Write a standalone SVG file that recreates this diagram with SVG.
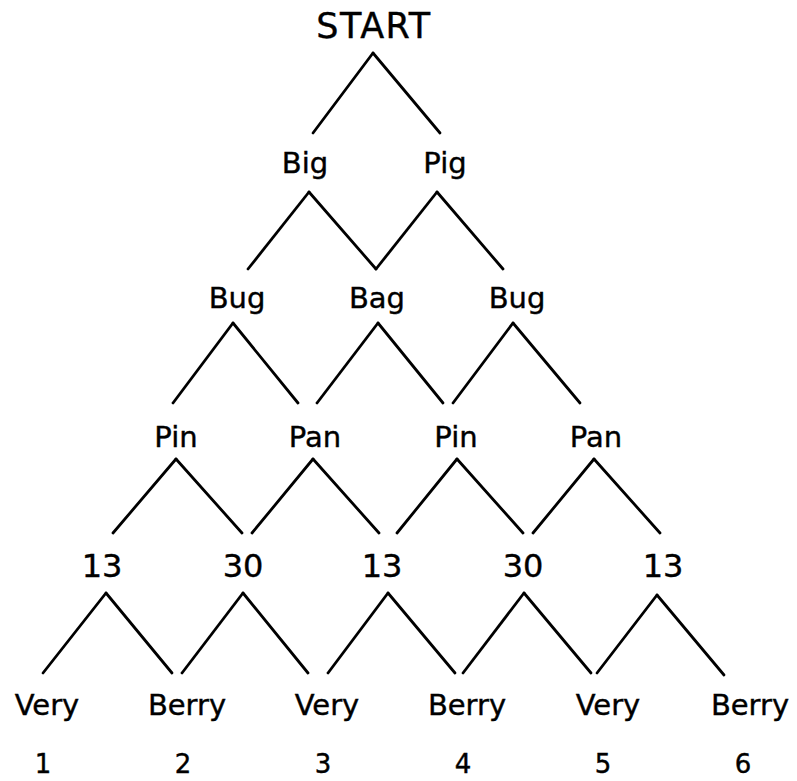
<svg xmlns="http://www.w3.org/2000/svg" width="797" height="781" viewBox="0 0 797 781">
  <style>
    text { font-family: "DejaVu Sans", "Liberation Sans", sans-serif; fill: #000; stroke: #000; stroke-width: 0.4px; text-anchor: middle; }
    .lbl { font-size: 29px; }
    .top { font-size: 35px; letter-spacing: 1.5px; }
    .num { font-size: 32px; }
    .idx { font-size: 26px; }
    .edges line { stroke: #000; stroke-width: 2.8; stroke-linecap: round; }
  </style>
  <rect width="797" height="781" fill="#fff"/>

  <!-- connectors -->
  <g id="edges" class="edges">
    <!-- START -->
    <line x1="373" y1="53" x2="313" y2="133"/>
    <line x1="373" y1="53" x2="440" y2="133"/>
    <!-- Big / Pig -->
    <line x1="309" y1="192" x2="248" y2="269"/>
    <line x1="309" y1="192" x2="376" y2="269"/>
    <line x1="437" y1="192" x2="376" y2="269"/>
    <line x1="437" y1="192" x2="503" y2="269"/>
    <!-- Bug / Bag / Bug -->
    <line x1="233" y1="323" x2="173" y2="403"/>
    <line x1="233" y1="323" x2="298" y2="403"/>
    <line x1="378" y1="323" x2="317" y2="403"/>
    <line x1="378" y1="323" x2="443" y2="403"/>
    <line x1="513" y1="323" x2="453" y2="403"/>
    <line x1="513" y1="323" x2="580" y2="403"/>
    <!-- Pin / Pan / Pin / Pan -->
    <line x1="176" y1="459" x2="113" y2="533"/>
    <line x1="176" y1="459" x2="242" y2="533"/>
    <line x1="313" y1="459" x2="252" y2="533"/>
    <line x1="313" y1="459" x2="379" y2="533"/>
    <line x1="457" y1="459" x2="397" y2="533"/>
    <line x1="457" y1="459" x2="523" y2="533"/>
    <line x1="594" y1="459" x2="533" y2="533"/>
    <line x1="594" y1="459" x2="660" y2="533"/>
    <!-- 13 / 30 / 13 / 30 / 13 -->
    <line x1="106" y1="593" x2="43" y2="673"/>
    <line x1="106" y1="593" x2="172" y2="673"/>
    <line x1="243" y1="593" x2="182" y2="673"/>
    <line x1="243" y1="593" x2="308" y2="673"/>
    <line x1="388" y1="593" x2="328" y2="673"/>
    <line x1="388" y1="593" x2="455" y2="673"/>
    <line x1="524" y1="593" x2="463" y2="673"/>
    <line x1="524" y1="593" x2="591" y2="673"/>
    <line x1="657" y1="595" x2="597" y2="673"/>
    <line x1="657" y1="595" x2="724" y2="675"/>
  </g>

  <!-- nodes -->
  <g id="start"><text class="top" x="374" y="38">START</text></g>

  <g id="big"><text class="lbl" x="305" y="173">Big</text></g>
  <g id="pig"><text class="lbl" x="445" y="173">Pig</text></g>

  <g id="bug-1"><text class="lbl" x="237" y="308">Bug</text></g>
  <g id="bag"><text class="lbl" x="377" y="308">Bag</text></g>
  <g id="bug-2"><text class="lbl" x="517" y="308">Bug</text></g>

  <g id="pin-1"><text class="lbl" x="176" y="447">Pin</text></g>
  <g id="pan-1"><text class="lbl" x="315" y="447">Pan</text></g>
  <g id="pin-2"><text class="lbl" x="456" y="447">Pin</text></g>
  <g id="pan-2"><text class="lbl" x="596" y="447">Pan</text></g>

  <g id="n13-1"><text class="num" x="102" y="577">13</text></g>
  <g id="n30-1"><text class="num" x="243" y="577">30</text></g>
  <g id="n13-2"><text class="num" x="382" y="577">13</text></g>
  <g id="n30-2"><text class="num" x="523" y="577">30</text></g>
  <g id="n13-3"><text class="num" x="663" y="577">13</text></g>

  <g id="very-1"><text class="lbl" x="47" y="715">Very</text></g>
  <g id="berry-1"><text class="lbl" x="187" y="715">Berry</text></g>
  <g id="very-2"><text class="lbl" x="327" y="715">Very</text></g>
  <g id="berry-2"><text class="lbl" x="467" y="715">Berry</text></g>
  <g id="very-3"><text class="lbl" x="608" y="715">Very</text></g>
  <g id="berry-3"><text class="lbl" x="750" y="715">Berry</text></g>

  <!-- path indices -->
  <g id="index">
    <text class="idx" x="43" y="773">1</text>
    <text class="idx" x="183" y="773">2</text>
    <text class="idx" x="323" y="773">3</text>
    <text class="idx" x="463" y="773">4</text>
    <text class="idx" x="603" y="773">5</text>
    <text class="idx" x="743" y="773">6</text>
  </g>
</svg>
